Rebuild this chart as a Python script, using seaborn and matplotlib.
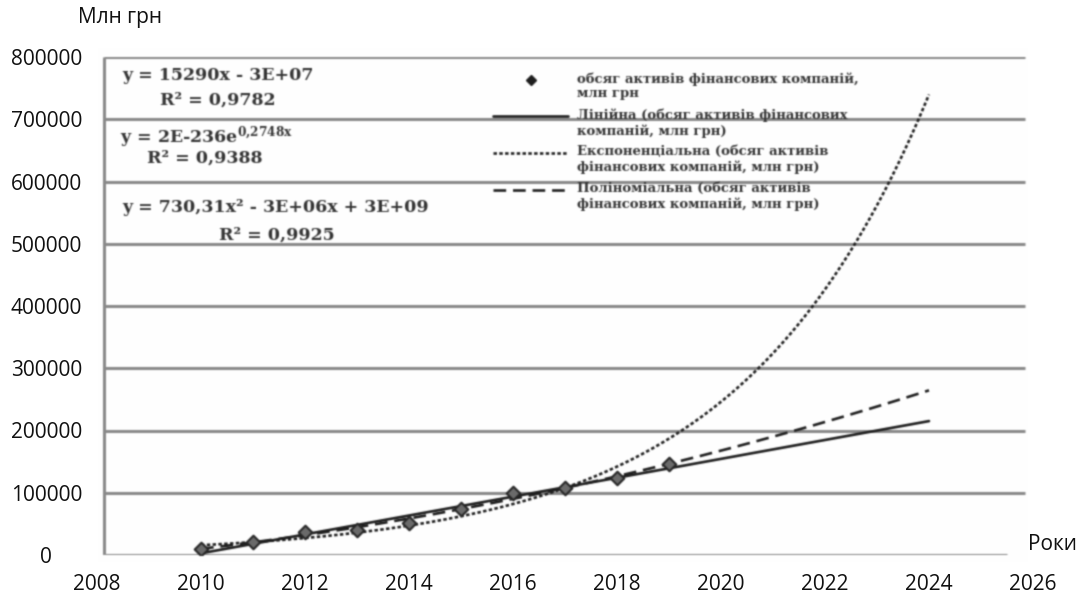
import numpy as np
import matplotlib
matplotlib.use("Agg")
import matplotlib.pyplot as plt
import seaborn as sns
from matplotlib.lines import Line2D
from matplotlib.legend_handler import HandlerLine2D
from matplotlib.font_manager import FontProperties

# --- data -------------------------------------------------------------
years = [2010, 2011, 2012, 2013, 2014, 2015, 2016, 2017, 2018, 2019]
assets = [9600, 20900, 36900, 40200, 51400, 73900, 99600, 107600, 123700, 146200]
forecast_end = 2024

y_ticks = [0, 100000, 200000, 300000, 400000, 500000, 600000, 700000, 800000]
x_ticks = [2008, 2010, 2012, 2014, 2016, 2018, 2020, 2022, 2024, 2026]

equations = [
    "y = 15290x - 3E+07",
    r"y = 2E-236e$^{\mathbf{0{,}2748x}}$",
    "y = 730,31x² - 3E+06x + 3E+09",
]
r_squared = ["R² = 0,9782", "R² = 0,9388", "R² = 0,9925"]

legend_labels = [
    "обсяг активів фінансових компаній,\nмлн грн",
    "Лінійна (обсяг активів фінансових\nкомпаній, млн грн)",
    "Експоненціальна (обсяг активів\nфінансових компаній, млн грн)",
    "Поліноміальна (обсяг активів\nфінансових компаній, млн грн)",
]

# --- style ------------------------------------------------------------
sns.set_style("white")
plt.rcParams["font.family"] = ["Open Sans", "DejaVu Sans"]
plt.rcParams["mathtext.fontset"] = "dejavuserif"

W, H = 1081, 594
ink = "#1e1e1e"
grid_c = "#8a8a8a"
text_c = "#333333"
serif_b = FontProperties(family="DejaVu Serif", weight="bold", size=12.5)
legend_fp = FontProperties(family="DejaVu Serif", weight="bold", size=9.5)

fig = plt.figure(figsize=(W / 100, H / 100), dpi=100)
ax = fig.add_axes([97 / W, 39 / H, 936 / W, 498 / H])
ax.set_xlim(2008, 2026)
ax.set_ylim(0, 800000)
for s in ax.spines.values():
    s.set_visible(False)

x_left, x_grid_end, x_axis_end = 2008.135, 2025.85, 2025.5

# frame and horizontal grid
ax.hlines(y_ticks[1:], x_left, x_grid_end, colors=grid_c, lw=2.2, zorder=1)
ax.hlines(0, x_left, x_axis_end, colors=grid_c, lw=2.2, zorder=1)
ax.vlines(x_left, 0, 800000, colors=grid_c, lw=2.2, zorder=1)

# --- trend lines fitted to the series ---------------------------------
t = np.asarray(years, float) - 2010
v = np.asarray(assets, float)
tt = np.linspace(2010, forecast_end, 300)
lin_fit = np.polyval(np.polyfit(t, v, 1), tt - 2010)
exp_fit = np.exp(np.polyval(np.polyfit(t, np.log(v), 1), tt - 2010))
poly_fit = np.polyval(np.polyfit(t, v, 2), tt - 2010)

lw = 1.9
sns.lineplot(x=tt, y=lin_fit, ax=ax, color=ink, lw=lw, sort=False, estimator=None, zorder=3)
lin_line = ax.lines[-1]
sns.lineplot(x=tt, y=exp_fit, ax=ax, color=ink, lw=lw, sort=False, estimator=None, zorder=3)
exp_line = ax.lines[-1]
exp_line.set_dashes([1.3, 0.9])
sns.lineplot(x=tt, y=poly_fit, ax=ax, color=ink, lw=lw, sort=False, estimator=None, zorder=3)
poly_line = ax.lines[-1]
poly_line.set_dashes([4.8, 2.6])

sns.scatterplot(x=years, y=assets, ax=ax, marker="D", s=48, color="#6b6b6b",
                edgecolor="#262626", linewidth=1.5, zorder=5)

# --- ticks ------------------------------------------------------------
ax.set_xticks(x_ticks)
ax.set_xticklabels([str(x) for x in x_ticks])
ax.set_yticks(y_ticks)
ax.set_yticklabels([str(y) for y in y_ticks])
ax.tick_params(axis="both", length=0, labelsize=15, colors="#111111")
ax.tick_params(axis="y", pad=36.5)
ax.tick_params(axis="x", pad=14)
for lbl in ax.get_yticklabels():
    lbl.set_horizontalalignment("center")
ax.set_xlabel("")
ax.set_ylabel("")


def fx(px):
    return px / W


def fy(py):
    return 1 - py / H


fig.text(fx(120), fy(18), "Млн грн", ha="center", va="center", fontsize=15, color="#111111")
fig.text(fx(1052), fy(545), "Роки", ha="center", va="center", fontsize=15, color="#111111")

# --- trend equations ---------------------------------------------------
eq_pos = [(122, 75), (120, 137), (122, 208)]
r2_pos = [(218, 100), (205, 158), (277, 235)]
for s, (x, y) in zip(equations, eq_pos):
    fig.text(fx(x), fy(y), s, ha="left", va="center", fontproperties=serif_b, color=text_c)
for s, (x, y) in zip(r_squared, r2_pos):
    fig.text(fx(x), fy(y), s, ha="center", va="center", fontproperties=serif_b, color=text_c)


# --- legend: sample aligned with the first text line --------------------
class FirstLineHandler(HandlerLine2D):
    def __init__(self, dy, **kw):
        super().__init__(**kw)
        self.dy = dy

    def create_artists(self, legend, orig_handle, xdescent, ydescent, width, height, fontsize, trans):
        arts = super().create_artists(legend, orig_handle, xdescent, ydescent, width, height, fontsize, trans)
        for a in arts:
            a.set_ydata(np.asarray(a.get_ydata()) + self.dy)
        return arts


marker_proxy = Line2D([], [], ls="none", marker="D", ms=5, mfc=ink, mec=ink)
handles = [marker_proxy, lin_line, exp_line, poly_line]
hmap = {h: FirstLineHandler(5.0, numpoints=1) for h in handles}
ax.legend(handles, legend_labels, loc="upper left",
          bbox_to_anchor=(fx(493), fy(72)), bbox_transform=fig.transFigure,
          frameon=False, prop=legend_fp, labelcolor=text_c,
          handlelength=5.7, handletextpad=0.65, labelspacing=0.6,
          borderpad=0, borderaxespad=0, numpoints=1, handler_map=hmap)

# --- render, soften the plot area slightly (scanned look), save ---------
fig.canvas.draw()
img = np.asarray(fig.canvas.buffer_rgba())[..., :3].astype(float)


def soften(a, sigma=0.75):
    r = 2
    k = np.exp(-0.5 * (np.arange(-r, r + 1) / sigma) ** 2)
    k /= k.sum()
    p = np.pad(a, ((r, r), (0, 0), (0, 0)), mode="edge")
    a = sum(k[i] * p[i:i + a.shape[0]] for i in range(len(k)))
    p = np.pad(a, ((0, 0), (r, r), (0, 0)), mode="edge")
    a = sum(k[i] * p[:, i:i + a.shape[1]] for i in range(len(k)))
    return a


img[48:562, 98:1028] = soften(img[48:562, 98:1028])
plt.imsave("out.png", np.clip(img, 0, 255).astype(np.uint8))
